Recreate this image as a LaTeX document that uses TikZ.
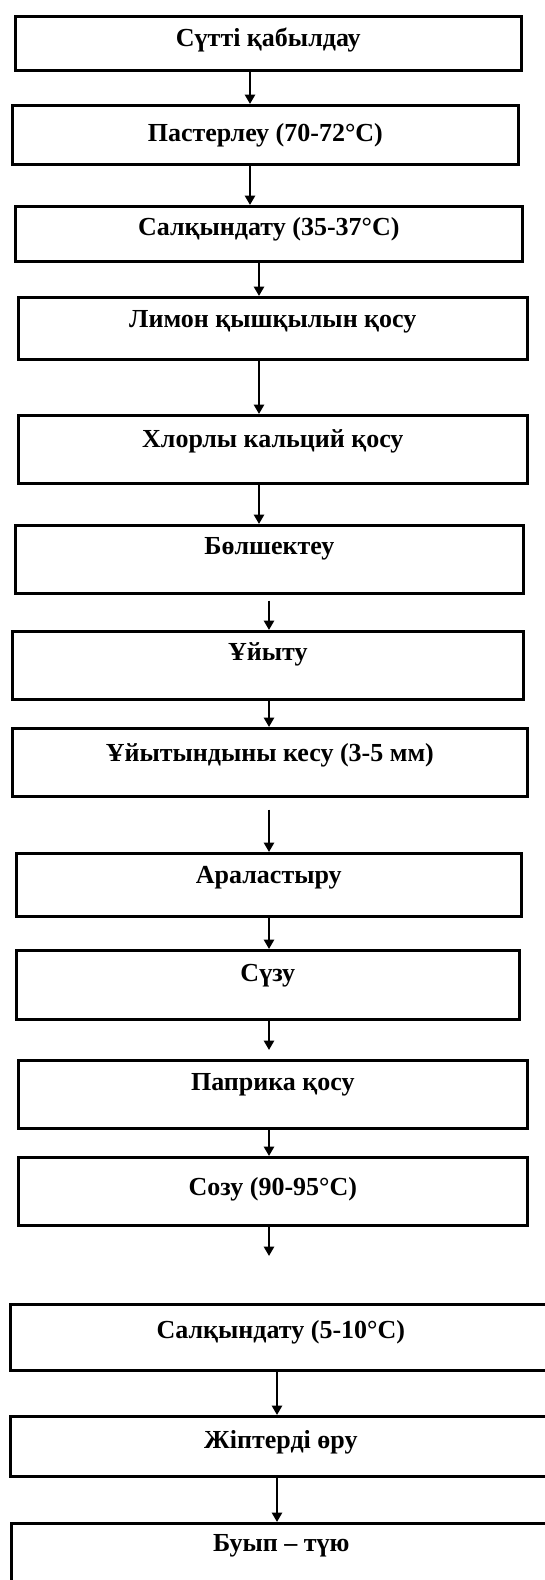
\documentclass[tikz,border=0pt]{standalone}
\usepackage{fontspec}
\setmainfont{Liberation Serif}
\usepackage{tikz}
\usetikzlibrary{arrows.meta}
\newlength{\pxu}
\setlength{\pxu}{0.75pt}
\tikzset{
  stepbox/.style={draw=black, line width=2pt, anchor=north west, inner sep=0pt,
    font=\fontsize{19.5}{24}\selectfont\bfseries},
  flow/.style={line width=1.9pt, -{Triangle[width=7.5pt, length=7pt]}}
}

\begin{document}
\begin{tikzpicture}[x=\pxu, y=-\pxu]
    \fill[white] (0,0) rectangle (544,1580);
    \useasboundingbox (0,0) rectangle (544,1580);

    \node[stepbox, minimum width=506\pxu, text height=30.6\pxu, text depth=23.4\pxu] (s1) at (14,15) {Сүтті қабылдау};
    \node[stepbox, minimum width=506\pxu, text height=36.6\pxu, text depth=22.4\pxu] (s2) at (11,104) {Пастерлеу (70-72°C)};
    \node[stepbox, minimum width=507\pxu, text height=29.6\pxu, text depth=25.4\pxu] (s3) at (14,205) {Салқындату (35-37°C)};
    \node[stepbox, minimum width=509\pxu, text height=30.6\pxu, text depth=31.4\pxu] (s4) at (17,296) {Лимон қышқылын қосу};
    \node[stepbox, minimum width=509\pxu, text height=32\pxu, text depth=36\pxu] (s5) at (17,414) {Хлорлы кальций қосу};
    \node[stepbox, minimum width=508\pxu, text height=29.6\pxu, text depth=38.4\pxu] (s6) at (14,524) {Бөлшектеу};
    \node[stepbox, minimum width=511\pxu, text height=29.6\pxu, text depth=38.4\pxu] (s7) at (11,630) {Ұйыту};
    \node[stepbox, minimum width=515\pxu, text height=33.6\pxu, text depth=34.4\pxu] (s8) at (11,727) {Ұйытындыны кесу (3-5 мм)};
    \node[stepbox, minimum width=505\pxu, text height=30.6\pxu, text depth=32.4\pxu] (s9) at (15,852) {Араластыру};
    \node[stepbox, minimum width=503\pxu, text height=31.6\pxu, text depth=37.4\pxu] (s10) at (15,949) {Сүзу};
    \node[stepbox, minimum width=509\pxu, text height=30.6\pxu, text depth=37.4\pxu] (s11) at (17,1059) {Паприка қосу};
    \node[stepbox, minimum width=509\pxu, text height=38.6\pxu, text depth=29.4\pxu] (s12) at (17,1156) {Созу (90-95°C)};
    \node[stepbox, minimum width=541\pxu, text height=34.6\pxu, text depth=31.4\pxu] (s13) at (9,1303) {Салқындату (5-10°C)};
    \node[stepbox, minimum width=541\pxu, text height=32.6\pxu, text depth=27.4\pxu] (s14) at (9,1415) {Жіптерді өру};
    \node[stepbox, minimum width=540\pxu, text height=28.6\pxu, text depth=49.4\pxu] (s15) at (10,1522) {Буып – түю};

    \coordinate (colA) at (250,0);
    \coordinate (colB) at (259,0);
    \coordinate (colC) at (269,0);
    \coordinate (colD) at (277,0);
    \coordinate (gap) at (269,1256);

    \draw[flow] (s1.south -| colA) -- (s2.north -| colA);
    \draw[flow] (s2.south -| colA) -- (s3.north -| colA);
    \draw[flow] (s3.south -| colB) -- (s4.north -| colB);
    \draw[flow] (s4.south -| colB) -- (s5.north -| colB);
    \draw[flow] (s5.south -| colB) -- (s6.north -| colB);
    \draw[flow, shorten <=4.5pt] (s6.south -| colC) -- (s7.north -| colC);
    \draw[flow] (s7.south -| colC) -- (s8.north -| colC);
    \draw[flow, shorten <=9pt] (s8.south -| colC) -- (s9.north -| colC);
    \draw[flow] (s9.south -| colC) -- (s10.north -| colC);
    \draw[flow, shorten >=6.75pt] (s10.south -| colC) -- (s11.north -| colC);
    \draw[flow] (s11.south -| colC) -- (s12.north -| colC);
    \draw[flow] (s12.south -| colC) -- (gap);
    \draw[flow] (s13.south -| colD) -- (s14.north -| colD);
    \draw[flow] (s14.south -| colD) -- (s15.north -| colD);
\end{tikzpicture}
\end{document}
